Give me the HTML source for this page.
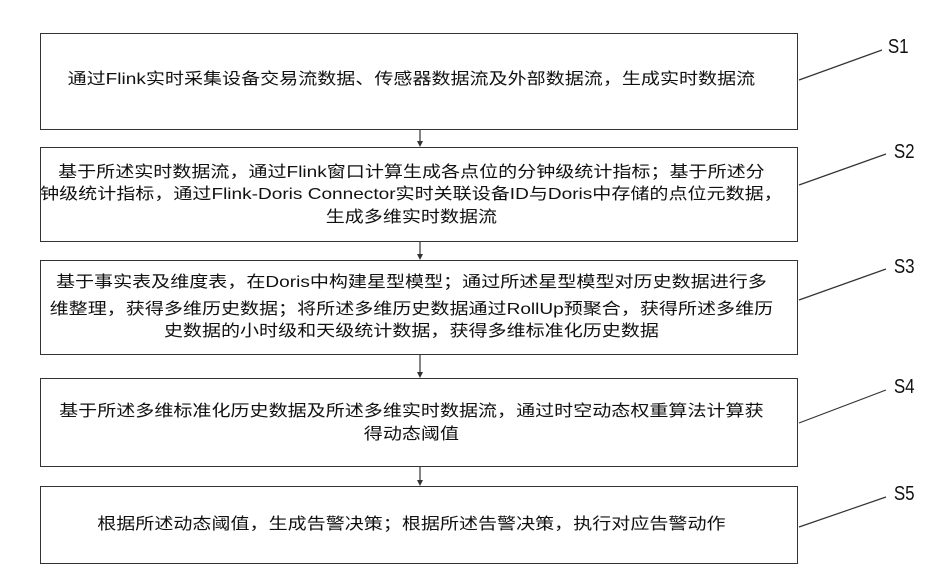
<!DOCTYPE html>
<html><head><meta charset="utf-8"><style>
body{margin:0;width:933px;height:586px;background:#fff;position:relative;overflow:hidden;font-family:"Liberation Sans","Noto Sans CJK SC",sans-serif;color:#111}
.box{position:absolute;left:40px;width:758px;border:1.3px solid #333;box-sizing:border-box}
.t{position:absolute;left:40px;width:758px;text-align:center;white-space:nowrap;font-size:16px;line-height:20px;transform:scaleX(1.19);transform-origin:419px 50%}
.s{position:absolute;font-size:20px;transform:scaleX(0.85);}
</style></head><body>
<div class="box" style="top:33px;height:97px"></div>
<div class="box" style="top:147px;height:95px"></div>
<div class="box" style="top:260px;height:95px"></div>
<div class="box" style="top:378px;height:89px"></div>
<div class="box" style="top:486px;height:78px"></div>

<div class="t" style="top:70px">通过Flink实时采集设备交易流数据、传感器数据流及外部数据流，生成实时数据流</div>
<div class="t" style="top:163px">基于所述实时数据流，通过Flink窗口计算生成各点位的分钟级统计指标；基于所述分</div>
<div class="t" style="top:185px">钟级统计指标，通过Flink-Doris Connector实时关联设备ID与Doris中存储的点位元数据，</div>
<div class="t" style="top:208px">生成多维实时数据流</div>
<div class="t" style="top:273px">基于事实表及维度表，在Doris中构建星型模型；通过所述星型模型对历史数据进行多</div>
<div class="t" style="top:300px">维整理，获得多维历史数据；将所述多维历史数据通过RollUp预聚合，获得所述多维历</div>
<div class="t" style="top:322px">史数据的小时级和天级统计数据，获得多维标准化历史数据</div>
<div class="t" style="top:402px">基于所述多维标准化历史数据及所述多维实时数据流，通过时空动态权重算法计算获</div>
<div class="t" style="top:425px">得动态阈值</div>
<div class="t" style="top:515px">根据所述动态阈值，生成告警决策；根据所述告警决策，执行对应告警动作</div>

<div class="s" style="left:886px;top:36px">S1</div>
<div class="s" style="left:892px;top:141px">S2</div>
<div class="s" style="left:892px;top:256px">S3</div>
<div class="s" style="left:892px;top:376px">S4</div>
<div class="s" style="left:892px;top:483px">S5</div>

<svg width="933" height="586" style="position:absolute;left:0;top:0">
<g stroke="#333" stroke-width="1.2" fill="none">
<line x1="799" y1="80" x2="882" y2="50"/>
<line x1="799" y1="185" x2="886" y2="154"/>
<line x1="799" y1="300" x2="886" y2="269"/>
<line x1="799" y1="423" x2="886" y2="390"/>
<line x1="799" y1="527" x2="886" y2="497"/>
<line x1="420" y1="130" x2="420" y2="145"/>
<line x1="420" y1="242" x2="420" y2="258"/>
<line x1="420" y1="355" x2="420" y2="376"/>
<line x1="420" y1="467" x2="420" y2="484"/>
</g>
<g fill="#333">
<polygon points="417,141 423,141 420,147"/>
<polygon points="417,254 423,254 420,260"/>
<polygon points="417,372 423,372 420,378"/>
<polygon points="417,480 423,480 420,486"/>
</g>
</svg>
</body></html>
